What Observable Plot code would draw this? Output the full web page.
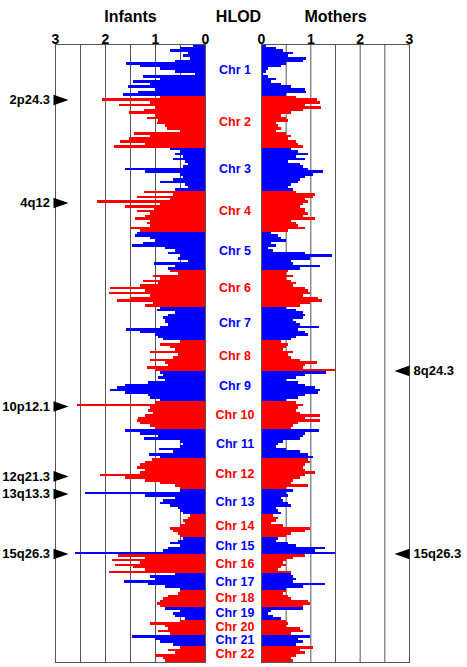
<!DOCTYPE html>
<html><head><meta charset="utf-8">
<script src="https://cdn.jsdelivr.net/npm/d3@7"></script>
<script src="https://cdn.jsdelivr.net/npm/@observablehq/plot@0.6"></script>
<style>
body{margin:0;background:#fff;}
#chart{position:relative;width:467px;height:667px;}
#chart svg{position:absolute;left:0;top:0;}
</style></head><body><div id="chart"></div>
<script>
const chromNames = ["Chr 1","Chr 2","Chr 3","Chr 4","Chr 5","Chr 6","Chr 7","Chr 8","Chr 9","Chr 10","Chr 11","Chr 12","Chr 13","Chr 14","Chr 15","Chr 16","Chr 17","Chr 18","Chr 19","Chr 20","Chr 21","Chr 22"];
const chromLengths = [291,291,241,230,213,207,190,174,168,157,162,174,140,129,95,106,95,95,73,84,62,90];
const infants = [
  [0.25,0.5,0.7,0.35,0.45,0.3,0.6,1.58,1.3,0.9,0.6,0.2,1.25,0.9,1.45,1.1,1.55,1.0,1.35,1.65],
  [0.9,2.07,1.1,1.73,1.0,1.23,1.53,1.0,1.17,0.95,0.97,0.8,0.77,0.5,1.43,1.1,1.53,1.7,1.2,1.83],
  [0.7,0.5,0.6,0.45,0.65,0.4,0.35,0.45,1.6,1.2,0.5,0.45,0.65,0.9,0.4,0.35,0.6],
  [1.23,0.65,1.37,0.7,2.17,0.9,1.6,1.03,1.37,1.1,1.2,1.4,1.1,1.17,1.1,1.5,1.3],
  [1.37,1.4,1.1,1.0,1.25,1.47,0.8,0.6,0.75,0.5,0.55,0.35,1.03,0.6,0.75],
  [0.7,0.55,1.05,0.9,1.25,0.95,1.3,1.9,1.2,1.93,1.1,1.5,1.77,1.05,1.2],
  [0.9,0.97,0.6,0.75,0.85,0.8,0.8,0.75,0.9,1.58,1.3,1.0,0.95,0.85],
  [0.5,0.9,0.7,0.6,1.1,0.55,0.65,1.1,0.8,0.75,1.17,1.0],
  [0.9,0.85,0.95,0.8,1.15,1.6,1.77,1.9,1.6,1.15,1.1,0.9],
  [1.0,2.57,1.1,1.15,1.05,1.2,1.35,1.37,1.3,1.1,1.0],
  [1.6,1.3,0.95,1.23,0.5,0.45,0.5,0.93,0.65,1.13,0.9],
  [1.07,1.2,1.3,1.37,1.2,1.3,2.1,1.6,1.2,0.9,0.6,0.5],
  [0.5,2.4,1.2,0.6,0.85,0.9,0.7,0.55,0.5,0.45],
  [0.3,0.35,0.45,0.4,0.5,0.7,0.65,0.55,0.5],
  [0.45,0.55,0.7,0.5,0.75,0.85,2.6],
  [1.75,1.2,1.87,1.3,1.8,1.45,1.2,1.93],
  [0.6,1.1,1.0,1.63,1.15,0.8,0.5],
  [0.5,0.55,0.75,0.85,0.9,0.97,0.9],
  [0.8,0.5,0.65,0.6,0.4],
  [0.5,1.1,0.8,0.75,0.95,0.7],
  [1.47,1.0,0.9,0.65],
  [0.5,0.75,0.6,1.0,0.85,0.8]
];
const mothers = [
  [0.1,0.3,0.45,0.65,0.55,0.92,0.85,0.5,0.4,0.15,0.1,0.05,0.15,0.3,0.2,0.4,0.6,0.9,0.92,0.5],
  [0.7,1.13,1.2,0.9,1.22,0.85,0.6,0.4,0.5,0.55,0.3,0.35,0.4,0.3,0.5,0.6,0.55,0.7,0.75,0.85],
  [0.6,0.75,0.95,0.7,0.9,0.55,0.8,0.85,0.95,1.25,1.05,0.9,0.8,0.75,0.6,0.55,0.65],
  [0.7,1.1,1.05,0.9,0.95,0.85,0.8,0.9,0.9,0.95,0.85,1.1,0.6,0.7,0.75,0.9,0.55],
  [0.2,0.35,0.4,0.5,0.2,0.3,0.15,0.25,0.9,1.43,1.0,0.6,0.65,1.2,0.8],
  [0.55,0.5,0.65,0.5,0.6,0.7,0.65,0.9,0.95,1.0,0.85,1.15,1.24,1.0,0.8],
  [0.5,0.7,0.85,0.9,0.85,0.65,0.7,0.8,1.17,0.75,0.9,0.95,0.7,0.6],
  [0.4,0.55,0.5,0.45,0.65,0.55,0.6,0.8,1.13,0.9,0.85,1.5],
  [1.32,0.9,0.7,0.5,0.75,0.9,1.1,1.2,1.15,0.9,0.75,0.5],
  [0.7,0.85,0.75,0.7,0.8,1.2,0.9,1.2,0.75,0.65,0.6],
  [1.18,0.9,0.85,0.8,0.45,0.35,0.3,0.5,0.8,0.95,1.05],
  [0.95,1.0,0.9,0.85,0.9,1.1,0.9,0.8,0.65,0.6,0.95,0.5],
  [0.65,0.5,0.55,0.4,0.45,0.55,0.6,0.3,0.35,0.4],
  [0.25,0.35,0.3,0.2,0.45,1.0,0.9,0.6,0.5],
  [0.35,0.3,0.55,0.7,1.3,1.1,1.5],
  [0.9,0.65,0.5,0.45,0.5,0.4,0.35,0.6],
  [0.6,0.65,0.7,0.65,1.3,0.85,0.5],
  [0.5,0.45,0.55,0.6,0.95,1.0,0.85],
  [0.85,0.2,0.15,0.25,0.4],
  [0.5,0.55,0.5,0.8,0.85,0.6],
  [1.0,0.75,0.85,0.7],
  [1.05,0.8,0.9,0.7,0.6,0.65]
];
const tickValues = [0, 1, 2, 3];
const gridValues = [0, 0.5, 1, 1.5, 2, 2.5, 3];
const infantPeakLabels = ["2p24.3","4q12","10p12.1","12q21.3","13q13.3","15q26.3"];
const infantPeakChroms = [2, 4, 10, 12, 13, 15];
const infantPeakPos = [20, 66, 26, 99, 24, 91];
const motherPeakLabels = ["8q24.3","15q26.3"];
const motherPeakChroms = [8, 15];
const motherPeakPos = [168, 91];

const FONT = '"Liberation Sans", Arial, Helvetica, sans-serif';
const ends = Array.from(d3.cumsum(chromLengths));
const starts = ends.map((e, i) => e - chromLengths[i]);
const total = ends[ends.length - 1];
const parityOf = (c) => (c % 2 === 0 ? "odd" : "even");

function segments(values) {
  return values.flatMap((vals, c) => vals.map((v, i) => ({
    parity: parityOf(c), v,
    y1: starts[c] + chromLengths[c] * i / vals.length,
    y2: starts[c] + chromLengths[c] * (i + 1) / vals.length
  })));
}
const chromTable = chromNames.map((name, c) => ({name, parity: parityOf(c), mid: starts[c] + chromLengths[c] / 2}));
const peaks = (labels, chroms, pos) => labels.map((label, i) => ({label, y: starts[chroms[i] - 1] + pos[i]}));
const infantPeaks = peaks(infantPeakLabels, infantPeakChroms, infantPeakPos);
const motherPeaks = peaks(motherPeakLabels, motherPeakChroms, motherPeakPos);

const triRight = {draw(ctx) { ctx.moveTo(-7.5, -5.3); ctx.lineTo(7.5, 0); ctx.lineTo(-7.5, 5.3); ctx.closePath(); }};
const triLeft = {draw(ctx) { ctx.moveTo(7.5, -5.3); ctx.lineTo(-7.5, 0); ctx.lineTo(7.5, 5.3); ctx.closePath(); }};

const common = {
  width: 467, height: 667, marginTop: 44, marginBottom: 5,
  y: {domain: [0, total], reverse: true, axis: null},
  color: {domain: ["odd", "even"], range: ["#0000ff", "#ff0000"]},
  style: {background: "transparent", fontFamily: FONT, overflow: "visible"}
};
const GRID = "#555";
const bold = {fontWeight: "bold", fill: "black"};

const left = Plot.plot({
  ...common,
  marginLeft: 55, marginRight: 262,
  x: {domain: [3, 0], axis: null},
  marks: [
    Plot.ruleX(gridValues, {x: d => d, stroke: GRID}),
    Plot.rect(segments(infants), {x1: 0, x2: "v", y1: "y1", y2: "y2", fill: "parity", shapeRendering: "crispEdges"}),
    Plot.frame({stroke: GRID}),
    Plot.text(tickValues, {x: d => d, frameAnchor: "top", dy: -10.5, text: d => String(d), fontSize: 14, ...bold}),
    Plot.text(["Infants"], {x: 1.5, frameAnchor: "top", dy: -34, text: d => d, fontSize: 16, ...bold}),
    Plot.text(["HLOD"], {x: 0, frameAnchor: "top", dx: 33, dy: -34, text: d => d, fontSize: 16, ...bold}),
    Plot.text(chromTable, {x: 0, y: "mid", dx: 29.5, dy: -0.5, text: "name", fill: "parity", fontSize: 12.5, fontWeight: "bold"}),
    Plot.dot(infantPeaks, {x: 3, y: "y", symbol: triRight, fill: "black", stroke: "none", dx: 5.5}),
    Plot.text(infantPeaks, {x: 3, y: "y", dx: -5.5, textAnchor: "end", text: "label", fontSize: 13, ...bold})
  ]
});

const right = Plot.plot({
  ...common,
  marginLeft: 261, marginRight: 58,
  x: {domain: [0, 3], axis: null},
  marks: [
    Plot.ruleX(gridValues, {x: d => d, stroke: GRID}),
    Plot.rect(segments(mothers), {x1: 0, x2: "v", y1: "y1", y2: "y2", fill: "parity", shapeRendering: "crispEdges"}),
    Plot.frame({stroke: GRID}),
    Plot.text(tickValues, {x: d => d, frameAnchor: "top", dy: -10.5, text: d => String(d), fontSize: 14, ...bold}),
    Plot.text(["Mothers"], {x: 1.5, frameAnchor: "top", dy: -34, text: d => d, fontSize: 16, ...bold}),
    Plot.dot(motherPeaks, {x: 3, y: "y", symbol: triLeft, fill: "black", stroke: "none", dx: -7.5}),
    Plot.text(motherPeaks, {x: 3, y: "y", dx: 4, textAnchor: "start", text: "label", fontSize: 13, ...bold})
  ]
});

const chart = document.getElementById("chart");
chart.appendChild(left);
chart.appendChild(right);
</script></body></html>
